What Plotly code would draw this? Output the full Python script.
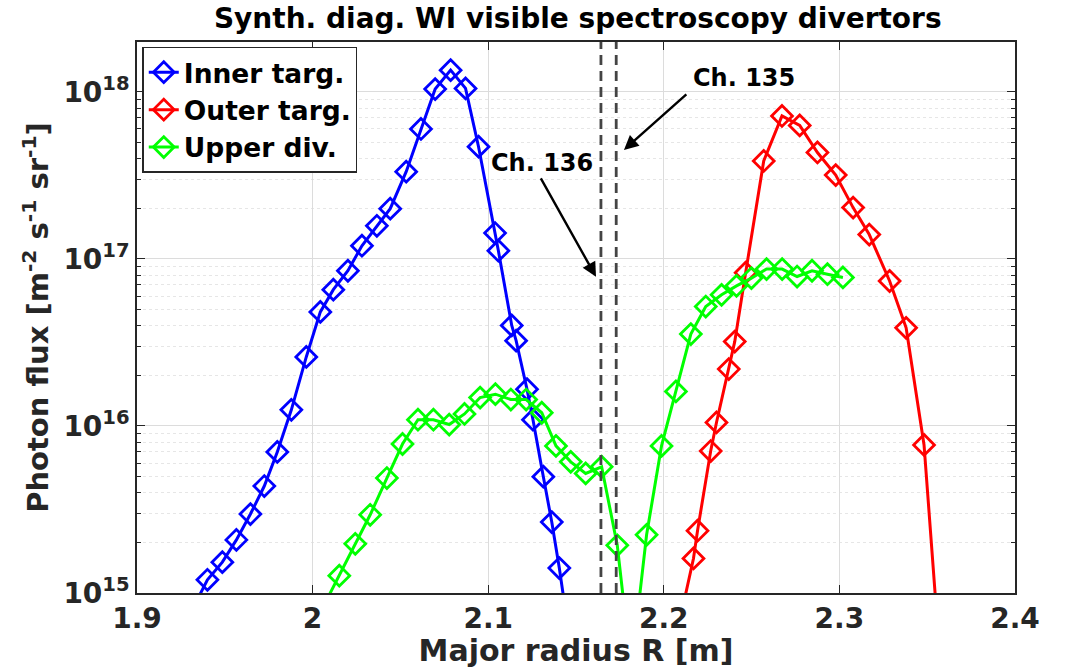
import plotly.graph_objects as go

# ---------------- data ----------------
inner_R = [1.9321, 1.9401, 1.9486, 1.9566, 1.9646, 1.9725, 1.9799, 1.9879, 1.9964, 2.0044,
           2.0118, 2.0201, 2.0281, 2.0366, 2.0442, 2.0533, 2.0617, 2.0698, 2.0786, 2.0871,
           2.0945, 2.1039, 2.1058, 2.1134, 2.1159, 2.1221, 2.1255, 2.1314, 2.1362, 2.1405, 2.1443]
inner_flux = [8.2e14, 1.2e15, 1.53e15, 2.08e15, 2.97e15, 4.37e15, 6.99e15, 1.25e16, 2.59e16, 4.82e16,
              6.55e16, 8.5e16, 1.2e17, 1.58e17, 2.0e17, 3.33e17, 6.0e17, 1.04e18, 1.35e18, 1.05e18,
              4.7e17, 1.43e17, 1.12e17, 4.0e16, 3.24e16, 1.66e16, 1.09e16, 4.97e15, 2.66e15, 1.41e15, 7.5e14]

outer_R = [2.2092, 2.2169, 2.2192, 2.2267, 2.2300, 2.2370, 2.2404, 2.2466, 2.2569, 2.2673,
           2.2774, 2.2875, 2.2979, 2.3078, 2.3170, 2.3286, 2.3380, 2.3482, 2.3582]
outer_flux = [6.9e14, 1.61e15, 2.36e15, 7.08e15, 1.05e16, 2.19e16, 3.2e16, 8.28e16, 3.86e17, 7.18e17,
              6.3e17, 4.34e17, 3.18e17, 2.03e17, 1.40e17, 7.38e16, 3.87e16, 7.7e15, 3.0e14]

upper_R = [2.0061, 2.0152, 2.0243, 2.0328, 2.0423, 2.0512, 2.0600, 2.0688, 2.0778, 2.0865,
           2.0954, 2.1041, 2.1129, 2.1216, 2.1305, 2.1386, 2.1470, 2.1555, 2.1646, 2.1735,
           2.1815, 2.1902, 2.1987, 2.2069, 2.2154, 2.2239, 2.2329, 2.2414, 2.2499, 2.2585,
           2.2674, 2.2759, 2.2844, 2.2932, 2.3020]
upper_flux = [8.3e14, 1.27e15, 1.97e15, 2.94e15, 4.88e15, 7.8e15, 1.09e16, 1.09e16, 1.02e16, 1.18e16,
              1.48e16, 1.55e16, 1.44e16, 1.44e16, 1.2e16, 7.6e15, 6.1e15, 5.2e15, 5.7e15, 1.93e15,
              3.5e14, 2.23e15, 7.6e15, 1.61e16, 3.55e16, 5.19e16, 6.1e16, 6.9e16, 7.68e16, 8.7e16,
              8.7e16, 7.85e16, 8.5e16, 8.1e16, 7.75e16]

channel_R = [2.1642, 2.1729]
channel_names = ["Ch. 136", "Ch. 135"]

series_names = ["Inner targ.", "Outer targ.", "Upper div."]
series_colors = ["#0000FF", "#FF0000", "#00FF00"]

x_ticks = [1.9, 2.0, 2.1, 2.2, 2.3, 2.4]
x_ticktext = ["1.9", "2", "2.1", "2.2", "2.3", "2.4"]
y_major = [1e15, 1e16, 1e17, 1e18]
y_ticktext = ["10<sup>15</sup>", "10<sup>16</sup>", "10<sup>17</sup>", "10<sup>18</sup>"]
y_minor = [k * 10 ** n for n in range(15, 19) for k in range(2, 10)]

FONT = "DejaVu Sans"

# ---------------- figure ----------------
fig = go.Figure()
for i, (R, F) in enumerate([(inner_R, inner_flux), (outer_R, outer_flux), (upper_R, upper_flux)]):
    fig.add_trace(go.Scatter(
        x=R, y=F, mode="lines+markers", name=series_names[i], legendgroup=str(i),
        line=dict(color=series_colors[i], width=3),
        marker=dict(symbol="diamond-open", size=16, color=series_colors[i],
                    line=dict(color=series_colors[i], width=2.8)),
        cliponaxis=True,
    ))

for xc in channel_R:
    fig.add_shape(type="line", xref="x", yref="paper", x0=xc, x1=xc, y0=0, y1=1,
                  line=dict(color="#444444", width=2.8, dash="10px,6px"), layer="above")

# arrows (head -> data, tail -> data; log axis => log10 units)
arrows = [
    dict(x=2.1614, y=16.893, ax=2.1295, ay=17.491),
    dict(x=2.1773, y=17.653, ax=2.2137, ay=17.994),
]
for a in arrows:
    fig.add_annotation(x=a["x"], y=a["y"], ax=a["ax"], ay=a["ay"], xref="x", yref="y",
                       axref="x", ayref="y", text="", showarrow=True, arrowhead=2,
                       arrowsize=1.2, arrowwidth=2.4, arrowcolor="black", standoff=0)
labels_pos = [(2.1307, 17.575), (2.2456, 18.084)]
for (lx, ly), name in zip(labels_pos, channel_names):
    fig.add_annotation(x=lx, y=ly, xref="x", yref="y", text=name, showarrow=False,
                       font=dict(family=FONT, size=24, color="black", weight="bold"))

fig.update_layout(
    width=1066, height=668,
    margin=dict(l=136.5, r=50.5, t=42, b=74.7, autoexpand=False),
    paper_bgcolor="white", plot_bgcolor="white",
    font=dict(family=FONT, size=22, color="#262626", weight="bold"),
    title=dict(text="Synth. diag. WI visible spectroscopy divertors", x=0.542, xanchor="center",
               y=0.973, yanchor="middle", yref="container",
               font=dict(family=FONT, size=28, color="black", weight="bold")),
    legend=dict(x=0.006, y=0.991, xanchor="left", yanchor="top", bgcolor="white",
                bordercolor="#262626", borderwidth=1.5, tracegroupgap=0,
                font=dict(family=FONT, size=26.5, color="black", weight="bold")),
    showlegend=True,
)

fig.update_xaxes(
    range=[1.9, 2.4], tickvals=x_ticks, ticktext=x_ticktext, automargin=False,
    showline=True, linecolor="#262626", linewidth=1.5, mirror="allticks",
    ticks="inside", ticklen=8, tickcolor="#262626", tickwidth=1.2,
    showgrid=True, gridcolor="#DCDCDC", gridwidth=1, zeroline=False,
    tickfont=dict(family=FONT, size=28, color="#262626", weight="bold"),
    title=dict(text="Major radius R [m]", standoff=4,
               font=dict(family=FONT, size=30, color="#262626", weight="bold")),
)
fig.update_yaxes(
    type="log", range=[15, 18.299], tickvals=y_major, ticktext=y_ticktext, automargin=False,
    showline=True, linecolor="#262626", linewidth=1.5, mirror="allticks",
    ticks="inside", ticklen=8, tickcolor="#262626", tickwidth=1.2,
    showgrid=True, gridcolor="#DCDCDC", gridwidth=1, zeroline=False,
    tickfont=dict(family=FONT, size=28, color="#262626", weight="bold"),
    minor=dict(tickvals=y_minor, ticks="inside", ticklen=4, tickcolor="#262626",
               showgrid=True, gridcolor="#E6E6E6", griddash="dot", gridwidth=1),
    title=dict(text="Photon flux [m<sup>-2</sup> s<sup>-1</sup> sr<sup>-1</sup>]", standoff=6,
               font=dict(family=FONT, size=29, color="#262626", weight="bold")),
)

fig.write_html("out.html")
